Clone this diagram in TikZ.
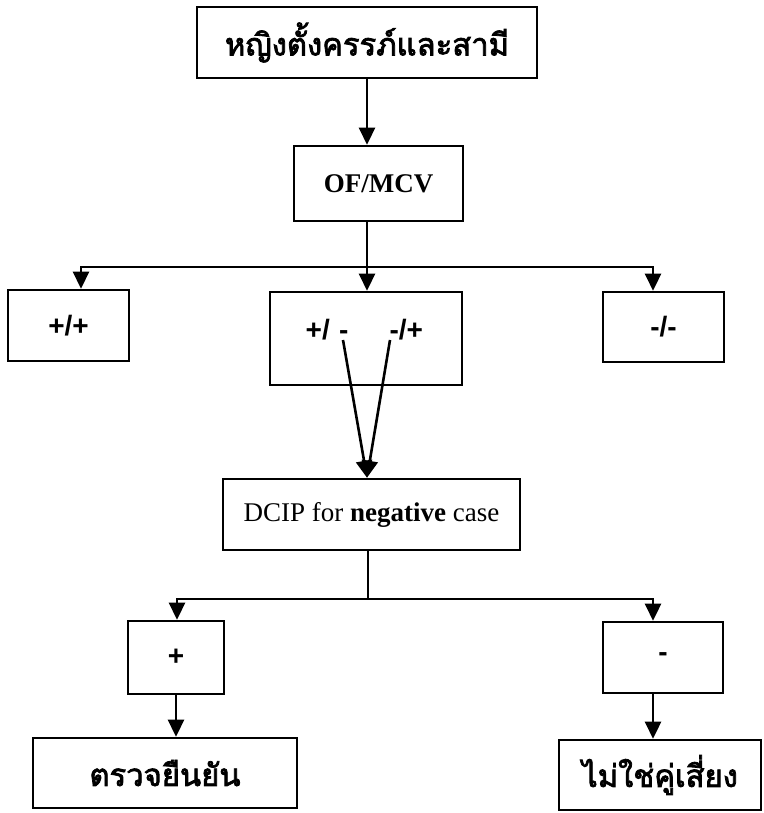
\documentclass[tikz,border=0pt]{standalone}
\usepackage{fontspec}
\setmainfont{Liberation Serif}
\newfontfamily\thaifont[Script=Thai, FakeBold=2.5]{Loma}
\newfontfamily\signfont{Liberation Sans}
\usetikzlibrary{arrows.meta,
	calc,
	positioning}

\tikzset{
	box/.style={draw, line width=2.6pt, inner sep=0pt, minimum width=#1},
	thaitext/.style={font=\thaifont\fontsize{31}{36}\selectfont},
	signtext/.style={font=\signfont\bfseries\fontsize{28}{32}\selectfont},
	arr/.style={line width=2.6pt, -{Triangle[length=17pt,width=16pt]}},
	ln/.style={line width=2.6pt}
}

\begin{document}
\begin{tikzpicture}[x=1pt, y=-1pt]
	\useasboundingbox (0, 0) rectangle (763, 813);
	% first level
	\node[box=340, minimum height=71, thaitext] (couple) at (367, 42.5) {หญิงตั้งครรภ์และสามี};
	\node[box=169, minimum height=75, font=\bfseries\fontsize{27}{30}\selectfont] (ofmcv) at (378.5, 183.5) {OF/MCV};
	% screening results
	\node[box=121, minimum height=71, signtext] (pospos) at (68.5, 325.5) {+/+};
	\node[box=192, minimum height=93] (mixed) at (366, 338.5) {};
	\node[box=121, minimum height=70, signtext] (negneg) at (663.5, 327) {-/-};
	\node[signtext, anchor=east] (posneg) at (352, 330) {+/\,\,-};
	\node[signtext, anchor=west] (negpos) at (386, 330) {-/+};
	\coordinate (posnegend) at (343, 340);
	\coordinate (negposend) at (390, 340);
	% confirm step
	\node[box=297, minimum height=71, font=\fontsize{27}{30}\selectfont] (dcip) at (371.5, 514.5) {DCIP for \textbf{negative} case};
	\node[box=96, minimum height=73, signtext] (plus) at (176, 657.5) {+};
	\node[box=120, minimum height=71, signtext] (minus) at (663, 657.5) {-};
	\node[box=264, minimum height=70, thaitext] (confirm) at (165, 773) {ตรวจยืนยัน};
	\node[box=202, minimum height=70, thaitext] (norisk) at (660, 775) {ไม่ใช่คู่เสี่ยง};
	% connectors
	\draw[arr] (couple.south) -- (couple.south |- ofmcv.north);
	\coordinate (split) at (367, 267);
	\draw[ln] (ofmcv.south -| split) -- (split);
	\draw[arr] (split) -| ([xshift=12.5pt]pospos.north);
	\draw[arr] (split) -| ([xshift=-10.5pt]negneg.north);
	\draw[arr] (split) -- (split |- mixed.north);
	\draw[arr] (posnegend) -- ([xshift=-4.5pt]dcip.north);
	\draw[arr] (negposend) -- ([xshift=-4.5pt]dcip.north);
	\coordinate (split2) at (368, 599);
	\draw[ln] (dcip.south -| split2) -- (split2);
	\draw[arr] (split2) -| ([xshift=1pt]plus.north);
	\draw[arr] (split2) -| ([xshift=-10pt]minus.north);
	\draw[arr] (plus.south) -- (plus.south |- confirm.north);
	\draw[arr] ([xshift=-10pt]minus.south) -- ([xshift=-10pt]minus.south |- norisk.north);
\end{tikzpicture}
\end{document}
